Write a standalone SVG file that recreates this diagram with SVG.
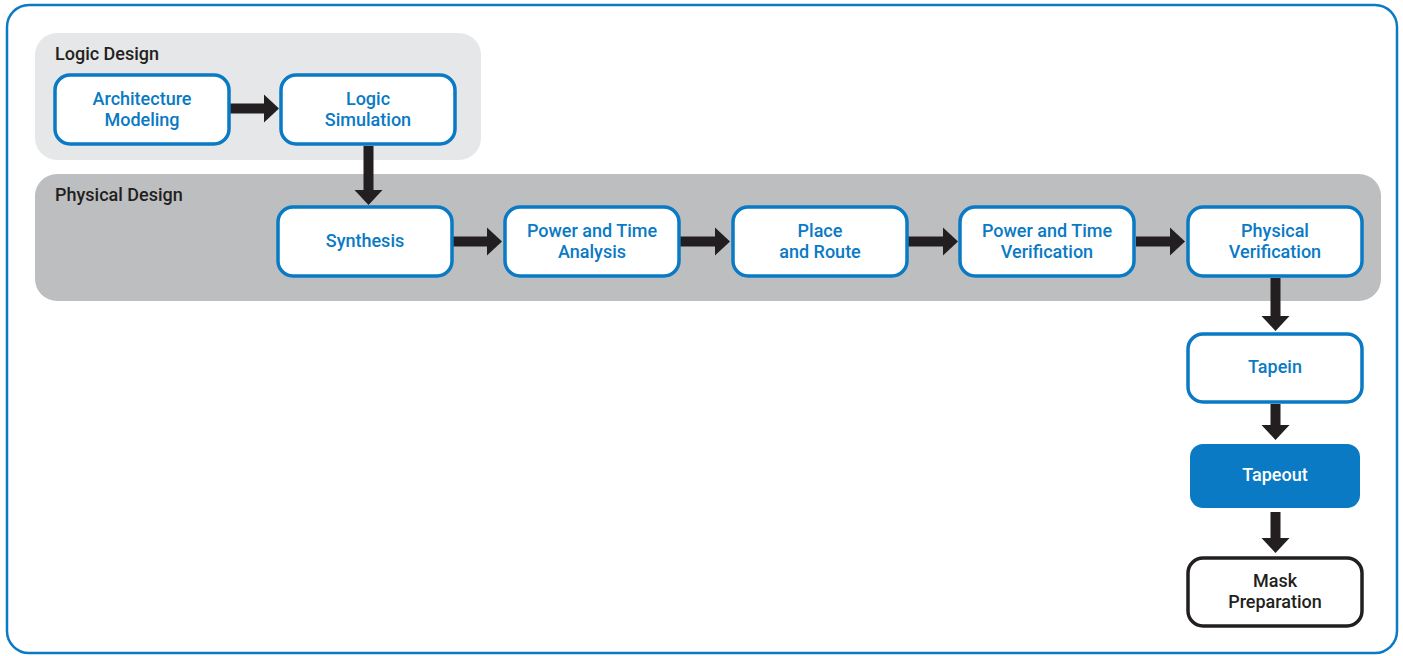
<svg xmlns="http://www.w3.org/2000/svg" width="1403" height="656" viewBox="0 0 1403 656">
<style>
.grp-ld{fill:#e6e7e8}
.grp-pd{fill:#bcbec0}
.glabel{font-family:Roboto,"Liberation Sans",Arial,sans-serif;font-weight:500;font-size:18px;fill:#231f20}
.node{fill:#fff;stroke:#0a7ac4;stroke-width:3.5}
.node-k{fill:#fff;stroke:#231f20;stroke-width:3.5}
.node-f{fill:#0a7ac4}
.t{font-family:Roboto,"Liberation Sans",Arial,sans-serif;font-weight:500;font-size:18px;fill:#0a7ac4;text-anchor:middle}
.tw{fill:#fff}
.tk{fill:#231f20}
.arrow{fill:#231f20}
</style>
<rect x="7" y="5" width="1390" height="648" rx="22" fill="#fff" stroke="#0a7ac4" stroke-width="2.5"/>
<g id="logic-design">
<rect class="grp-ld" x="35" y="33" width="446" height="127" rx="22"/>
<text class="glabel" x="55" y="60">Logic Design</text>
</g>
<g id="physical-design">
<rect class="grp-pd" x="35" y="174" width="1346" height="127" rx="22"/>
<text class="glabel" x="55" y="201">Physical Design</text>
</g>
<g id="connectors">
<path class="arrow" d="M230,103.5 H264 V94.5 L279,108.5 L264,122.5 V113.5 H230 Z"/>
<path class="arrow" d="M363.5,146 V190 H354.5 L368.5,205 L382.5,190 H373.5 V146 Z"/>
<path class="arrow" d="M453,236.5 H487 V227.5 L502,241.5 L487,255.5 V246.5 H453 Z"/>
<path class="arrow" d="M680,236.5 H715 V227.5 L730,241.5 L715,255.5 V246.5 H680 Z"/>
<path class="arrow" d="M908,236.5 H943 V227.5 L958,241.5 L943,255.5 V246.5 H908 Z"/>
<path class="arrow" d="M1136,236.5 H1170 V227.5 L1185,241.5 L1170,255.5 V246.5 H1136 Z"/>
<path class="arrow" d="M1270.5,278 V316 H1261.5 L1275.5,331 L1289.5,316 H1280.5 V278 Z"/>
<path class="arrow" d="M1270.5,404 V425 H1261.5 L1275.5,440 L1289.5,425 H1280.5 V404 Z"/>
<path class="arrow" d="M1270.5,512 V538 H1261.5 L1275.5,553 L1289.5,538 H1280.5 V512 Z"/>
</g>
<g id="architecture-modeling">
<rect class="node" x="55" y="75" width="174" height="69" rx="15"/>
<text class="t" x="142" y="105">Architecture</text>
<text class="t" x="142" y="126">Modeling</text>
</g>
<g id="logic-simulation">
<rect class="node" x="281" y="75" width="174" height="69" rx="15"/>
<text class="t" x="368" y="105">Logic</text>
<text class="t" x="368" y="126">Simulation</text>
</g>
<g id="synthesis">
<rect class="node" x="278" y="207" width="174" height="69" rx="15"/>
<text class="t" x="365" y="247">Synthesis</text>
</g>
<g id="power-time-analysis">
<rect class="node" x="505" y="207" width="174" height="69" rx="15"/>
<text class="t" x="592" y="237">Power and Time</text>
<text class="t" x="592" y="258">Analysis</text>
</g>
<g id="place-route">
<rect class="node" x="733" y="207" width="174" height="69" rx="15"/>
<text class="t" x="820" y="237">Place</text>
<text class="t" x="820" y="258">and Route</text>
</g>
<g id="power-time-verification">
<rect class="node" x="960" y="207" width="174" height="69" rx="15"/>
<text class="t" x="1047" y="237">Power and Time</text>
<text class="t" x="1047" y="258">Verification</text>
</g>
<g id="physical-verification">
<rect class="node" x="1188" y="207" width="174" height="69" rx="15"/>
<text class="t" x="1275" y="237">Physical</text>
<text class="t" x="1275" y="258">Verification</text>
</g>
<g id="tapein">
<rect class="node" x="1188" y="334" width="174" height="68" rx="15"/>
<text class="t" x="1275" y="373">Tapein</text>
</g>
<g id="tapeout">
<rect class="node-f" x="1190" y="444" width="170" height="64" rx="13"/>
<text class="t tw" x="1275" y="481">Tapeout</text>
</g>
<g id="mask-preparation">
<rect class="node-k" x="1188" y="558" width="174" height="68" rx="15"/>
<text class="t tk" x="1275" y="587">Mask</text>
<text class="t tk" x="1275" y="608">Preparation</text>
</g>
</svg>
